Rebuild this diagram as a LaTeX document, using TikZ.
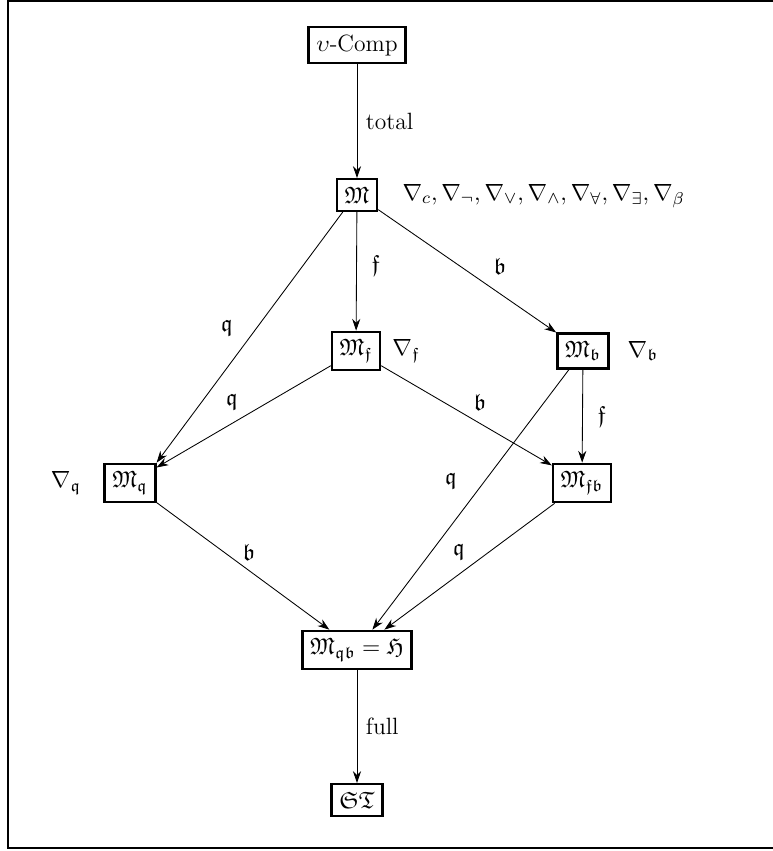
\documentclass[tikz,border=0pt]{standalone}
\usepackage{amssymb}
\usetikzlibrary{arrows.meta}
\begin{document}
\begin{tikzpicture}[x=0.4673pt,y=-0.4673pt,
  every node/.style={font=\fontsize{11}{13}\selectfont},
  box/.style={draw,line width=1.1pt,inner sep=3.6pt},
  arr/.style={-{Stealth[length=5.5pt,width=3.8pt]},line width=0.4pt},
  lab/.style={inner sep=1pt}]
\useasboundingbox (0,0) rectangle (773,851);
\draw[line width=0.9pt] (780,1) -- (8,1) -- (8,848) -- (780,848);
\node[box] (top) at (357,45) {$\upsilon$-Comp};
\node[box] (M) at (357,195) {$\mathfrak{M}$};
\node[lab,anchor=west] (nablas) at (400,196) {$\nabla_c, \nabla_\neg, \nabla_\vee, \nabla_\wedge, \nabla_\forall, \nabla_\exists, \nabla_\beta$};
\node[box] (Mf) at (356,351) {$\mathfrak{M}_{\mathfrak{f}}$};
\node[lab] (nf) at (406,351) {$\nabla_{\mathfrak{f}}$};
\node[box] (Mb) at (583,351) {$\mathfrak{M}_{\mathfrak{b}}$};
\node[lab] (nb) at (643,351) {$\nabla_{\mathfrak{b}}$};
\node[box] (Mq) at (130,483) {$\mathfrak{M}_{\mathfrak{q}}$};
\node[lab] (nq) at (66,483) {$\nabla_{\mathfrak{q}}$};
\node[box] (Mfb) at (582,483) {$\mathfrak{M}_{\mathfrak{fb}}$};
\node[box] (H) at (357,650) {$\mathfrak{M}_{\mathfrak{qb}} = \mathfrak{H}$};
\node[box] (ST) at (357,800) {$\mathfrak{ST}$};
\draw[arr] (top) -- node[lab,right=3pt] {total} (M);
\draw[arr] (M) -- node[lab,right=6pt,pos=0.45] {$\mathfrak{f}$} (Mf);
\draw[arr] (M) -- node[lab,pos=0.6,above right=3pt] {$\mathfrak{b}$} (Mb);
\draw[arr] (M.south west) ++(7,0) -- (Mq.north east);
\node[lab] (lq1) at (227,328) {$\mathfrak{q}$};
\draw[arr] (Mf) -- (Mq);
\node[lab] (lq2) at (232,402) {$\mathfrak{q}$};
\draw[arr] (Mf) -- (Mfb);
\node[lab] (lb2) at (480,402) {$\mathfrak{b}$};
\draw[arr] (Mb) -- node[lab,right=6pt] {$\mathfrak{f}$} (Mfb);
\draw[arr] (Mb) -- (H);
\node[lab] (lq3) at (451,481) {$\mathfrak{q}$};
\draw[arr] (Mq) -- (H);
\node[lab] (lb3) at (249,552) {$\mathfrak{b}$};
\draw[arr] (Mfb) -- (H);
\node[lab] (lq4) at (459,552) {$\mathfrak{q}$};
\draw[arr] (H) -- node[lab,right=3pt] {full} (ST);
\end{tikzpicture}
\end{document}
